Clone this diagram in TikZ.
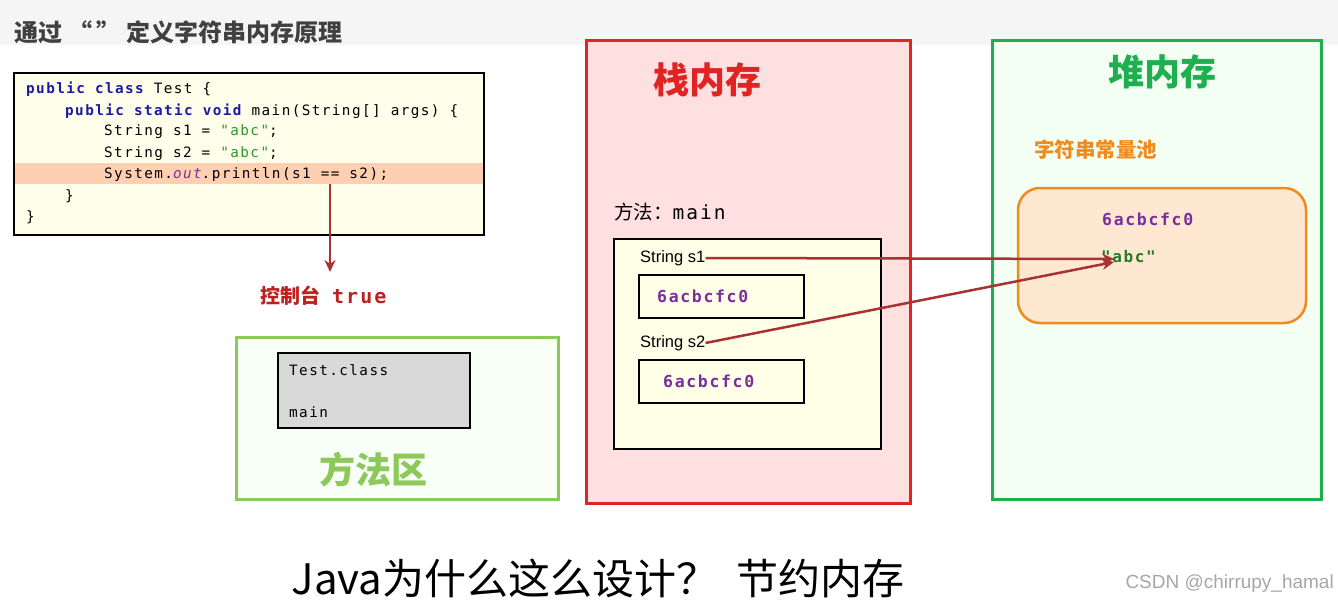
\documentclass[tikz,border=0pt]{standalone}
\usepackage{fontspec}
\usetikzlibrary{arrows.meta}
\setmainfont{Liberation Sans}
\newfontfamily\cjk{Noto Sans CJK SC}
\newfontfamily\cmono[LetterSpace=10]{DejaVu Sans Mono}
\definecolor{kw}{HTML}{1A1AA6}
\definecolor{strg}{HTML}{2A9A2A}
\definecolor{purp}{HTML}{7A2E9E}
\definecolor{darkred}{HTML}{A83232}
\definecolor{stackred}{HTML}{E02424}
\definecolor{heapg}{HTML}{1DAF50}
\definecolor{methg}{HTML}{8DC85A}
\definecolor{orng}{HTML}{F08C1E}
\begin{document}
\begin{tikzpicture}[x=1pt,y=-1pt,
  code/.style={anchor=west,inner sep=0pt,font=\cmono\fontsize{14.3}{16}\selectfont},
  addr/.style={anchor=west,inner sep=0pt,font=\cmono\bfseries\fontsize{16.5}{18}\selectfont,text=purp},
  lbl/.style={anchor=west,inner sep=0pt,font=\cmono\fontsize{14.3}{16}\selectfont},
  arr/.style={draw=darkred,line width=2.5pt,-{Stealth[length=12pt,width=11pt]}},
  big/.style={inner sep=0pt,font=\cjk\bfseries\fontsize{36}{38}\selectfont}]
\useasboundingbox (0,0) rectangle (1338,607);
\fill[gray!8] (0,0) rectangle (1338,45);
\node[anchor=west,inner sep=0pt,font=\cjk\bfseries\fontsize{24}{26}\selectfont,text=black!75] (title) at (14,32) {通过\hspace{6pt}“\hspace{4pt}”\hspace{6pt}定义字符串内存原理};
% code
\draw[fill=yellow!8,line width=1.5pt] (14,73) rectangle (484,235);
\fill[red!25!orange!30] (15,163) rectangle (483,184);
\node[code] (l1) at (26,89) {\bfseries\color{kw}public class \color{black}\mdseries Test \{};
\node[code] at (65,111) {\bfseries\color{kw}public static void \color{black}\mdseries main(String[] args) \{};
\node[code] at (104,132) {String s1 = \textcolor{strg}{"abc"};};
\node[code] at (104,154) {String s2 = \textcolor{strg}{"abc"};};
\node[code] at (104,175) {System.\textcolor{purp}{\itshape out}.println(s1 == s2);};
\node[code] at (65,196) {\}};
\node[code] at (26,217) {\}};
\coordinate (p) at (330,184);
\node[anchor=west,inner sep=0pt,font=\cjk\bfseries\fontsize{20}{22}\selectfont,text=stackred!85!black] (console) at (260,296) {控制台\hspace{12pt}{\cmono\bfseries true}};
\draw[arr] (p) -- (330,272);
% method area
\draw[draw=methg,line width=3pt,fill=green!3] (236,337) rectangle (558,499);
\draw[fill=black!15,line width=1.2pt] (278,353) rectangle (470,428);
\node[lbl] at (289,370) {Test.class};
\node[lbl] at (289,412) {main};
\node[big,text=methg] (ma) at (373,470) {方法区};
% stack
\draw[draw=stackred,line width=3pt,fill=red!12] (586,41) rectangle (910,503);
\node[big,text=stackred] (st) at (707,80) {栈内存};
\node[anchor=west,inner sep=0pt,font=\cjk\fontsize{19.5}{21}\selectfont] (mm) at (614,212) {方法：{\cmono main}};
\draw[fill=yellow!10,line width=1.2pt] (614,239) rectangle (881,449);
\node[anchor=west,inner sep=0pt,font=\fontsize{16.5}{18}\selectfont] (s1) at (640,258) {String s1};
\node[anchor=west,inner sep=0pt,font=\fontsize{16.5}{18}\selectfont] (s2) at (640,343) {String s2};
\draw[line width=1.5pt] (639,275) rectangle (804,318);
\draw[line width=1.5pt] (639,360) rectangle (804,403);
\node[addr] (a1) at (657,296) {6acbcfc0};
\node[addr] (a2) at (663,381) {6acbcfc0};
% heap
\draw[draw=heapg,line width=3pt,fill=green!5] (992,41) rectangle (1321,499);
\node[big,text=heapg] (hp) at (1162,72) {堆内存};
\node[anchor=west,inner sep=0pt,font=\cjk\bfseries\fontsize{20.5}{22}\selectfont,text=orng] (pool) at (1034,150) {字符串常量池};
\draw[draw=orng,line width=2.5pt,fill=orange!18,rounded corners=22pt] (1018,188) rectangle (1306,323);
\node[addr] (a3) at (1102,219) {6acbcfc0};
\node[anchor=west,inner sep=0pt,font=\cmono\bfseries\fontsize{16}{18}\selectfont,text=strg!80!black] (abc) at (1101,257) {"abc"};
\draw[arr] (s1.east) -- (1114,259);
\draw[arr] (s2.east) -- (1114,262);
% bottom
\node[inner sep=0pt,font=\cjk\fontsize{42}{44}\selectfont] (q) at (598,578) {Java为什么这么设计？\hspace{18pt}节约内存};
\node[anchor=east,inner sep=0pt,font=\fontsize{19}{21}\selectfont,text=black!35] (wm) at (1334,584) {CSDN @chirrupy\_hamal};
\end{tikzpicture}
\end{document}
